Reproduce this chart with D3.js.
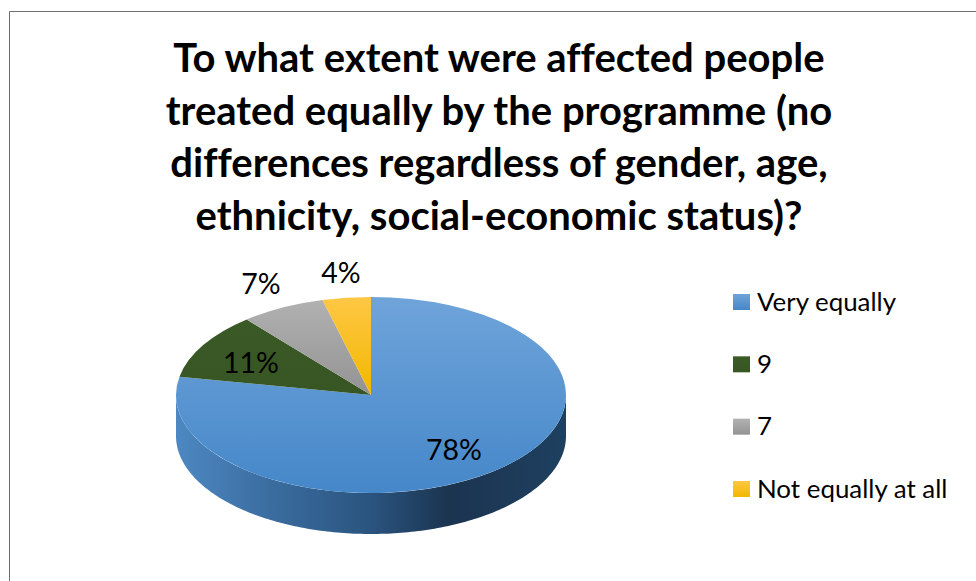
<!DOCTYPE html>
<html><head><meta charset="utf-8">
<script src="https://cdn.jsdelivr.net/npm/d3@7/dist/d3.min.js"></script>
<style>html,body{margin:0;padding:0;background:#fff}svg{display:block}text{font-family:Lato,Carlito,Calibri,sans-serif;fill:#000;font-variant-ligatures:none}</style>
</head><body><svg id="c" width="976" height="581"></svg>
<script>
const titleLines = ["To what extent were affected people","treated equally by the programme (no","differences regardless of gender, age,","ethnicity, social-economic status)?"];
const categories = ["Very equally","9","7","Not equally at all"];
const values = [78,11,7,4];
const labels = ["78%","11%","7%","4%"];
const topColors = ["#6fa4da","#3a5a26","#b2b2b2","#ffc745"];
const bottomColors = ["#4587c9","#375623","#939393","#f1b800"];

const W=976,H=581, cx=371, cy=395, rx=195, ry=98, depth=41;
const svg=d3.select("#c");
const defs=svg.append("defs");
categories.forEach((c,i)=>{
  const g=defs.append("linearGradient").attr("id","g"+i).attr("x1",0).attr("y1",0).attr("x2",0).attr("y2",1);
  g.append("stop").attr("offset",0).attr("stop-color",topColors[i]);
  g.append("stop").attr("offset",1).attr("stop-color",bottomColors[i]);
});
const faceGrad=(i)=>{
  const g=defs.append("linearGradient").attr("id","f"+i).attr("gradientUnits","userSpaceOnUse")
    .attr("x1",0).attr("y1",-rx).attr("x2",0).attr("y2",rx);
  g.append("stop").attr("offset",0).attr("stop-color",topColors[i]);
  g.append("stop").attr("offset",i===0?1:0.5).attr("stop-color",bottomColors[i]);
};
categories.forEach((c,i)=>faceGrad(i));
const wall=defs.append("linearGradient").attr("id","wall").attr("gradientUnits","userSpaceOnUse")
  .attr("x1",cx-rx).attr("y1",0).attr("x2",cx+rx).attr("y2",0);
[[0,"#4d88c2"],[0.25,"#3a6c9f"],[0.5,"#2a547f"],[0.7,"#1b3450"],[1,"#1f4060"]]
  .forEach(s=>wall.append("stop").attr("offset",s[0]).attr("stop-color",s[1]));

svg.append("path").attr("d",d3.line()([[9.5,H],[9.5,11.5],[W,11.5]])).attr("fill","none").attr("stroke","#6e6e6e").attr("stroke-width",1);

svg.append("g").selectAll("text").data(titleLines).join("text")
  .attr("x",499).attr("y",(d,i)=>72+i*52.5).attr("text-anchor","middle")
  .attr("font-size",40).attr("font-weight",700).text(d=>d);

const pie=d3.pie().sort(null).value(d=>d)(values);
const ky=ry/rx;
const px=a=>rx*Math.sin(a), py=a=>-ry*Math.cos(a);
const wp=d3.path();
wp.moveTo(cx+px(Math.PI/2),cy);
wp.lineTo(cx+px(Math.PI/2),cy+depth);
const rim=d3.range(Math.PI/2,3*Math.PI/2+0.001,Math.PI/180);
rim.forEach(a=>wp.lineTo(cx+px(a),cy+py(a)+depth));
wp.lineTo(cx-rx,cy);
rim.slice().reverse().forEach(a=>wp.lineTo(cx+px(a),cy+py(a)));
wp.closePath();
svg.append("path").attr("d",wp.toString()).attr("fill","url(#wall)");

const arc=d3.arc().innerRadius(0).outerRadius(rx);
const face=svg.append("g").attr("transform",`translate(${cx},${cy}) scale(1,${ky})`);
face.selectAll("path").data(pie).join("path").attr("d",arc).attr("fill",(d,i)=>`url(#f${i})`);

const labelPos=[[454,450],[251,363],[261,284],[341,273]];
svg.append("g").selectAll("text").data(labels).join("text")
  .attr("x",(d,i)=>labelPos[i][0]).attr("y",(d,i)=>labelPos[i][1]+10)
  .attr("text-anchor","middle").attr("font-size",28.5).text(d=>d);

const ly=d3.scalePoint().domain(categories).range([302,489]);
const lg=svg.append("g").selectAll("g").data(categories).join("g").attr("transform",d=>`translate(733,${ly(d)})`);
lg.append("rect").attr("x",0).attr("y",-8).attr("width",17).attr("height",16).attr("fill",(d,i)=>`url(#g${i})`);
lg.append("text").attr("x",24).attr("y",8.5).attr("font-size",25.9).text(d=>d);
</script></body></html>
